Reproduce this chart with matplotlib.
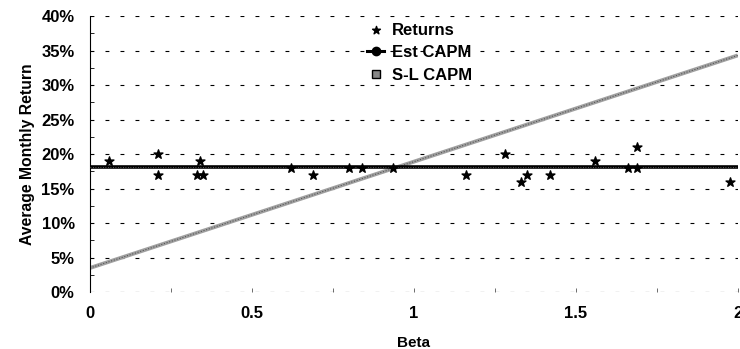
import numpy as np
import matplotlib
matplotlib.use("Agg")
from matplotlib import pyplot as plt
from matplotlib.ticker import MultipleLocator, PercentFormatter

plt.rcParams['font.family'] = ['Liberation Sans', 'DejaVu Sans']
plt.rcParams['font.weight'] = 'bold'

# Data
beta = [0.06, 0.21, 0.21, 0.33, 0.34, 0.35, 0.62, 0.69, 0.80, 0.84, 0.935,
        1.16, 1.28, 1.33, 1.35, 1.42, 1.56, 1.66, 1.69, 1.69, 1.975]
returns = [0.19, 0.20, 0.17, 0.17, 0.19, 0.17, 0.18, 0.17, 0.18, 0.18, 0.18,
           0.17, 0.20, 0.16, 0.17, 0.17, 0.19, 0.18, 0.18, 0.21, 0.16]
line_beta = [0, 2]
est_capm = [0.182, 0.182]
sl_capm = [0.035, 0.343]

fig = plt.figure(figsize=(7.4, 3.49), dpi=100)
ax = fig.add_axes([0.1216, 0.163, 0.8754, 0.791])

# Dashed horizontal gridlines
ax.yaxis.grid(True, linestyle=(0, (3.5, 10)), color='black', linewidth=0.8)
ax.set_axisbelow(True)

# S-L CAPM line (grey, speckled look)
ax.plot(line_beta, sl_capm, color='#a0a0a0', linewidth=2.8, solid_capstyle='butt', zorder=2)
ax.plot(line_beta, sl_capm, color='#555555', linewidth=0.8, linestyle=(0, (1, 1.5)), zorder=2)

# Est CAPM line (black, thick)
ax.plot(line_beta, est_capm, color='black', linewidth=2.6, solid_capstyle='butt', zorder=3)
ax.plot(line_beta, est_capm, color='#777777', linewidth=0.6, linestyle=(0, (1, 2)), zorder=3)

# Returns
ax.scatter(beta, returns, marker='*', s=45, color='black', zorder=4)

# Legend proxies
h1 = ax.scatter([], [], marker='*', s=35, color='black', label='Returns')
h2, = ax.plot([], [], marker='o', markersize=6, color='black', linewidth=2.2, label='Est CAPM')
h3, = ax.plot([], [], marker='s', markersize=6, color='#888888', markeredgecolor='black',
              linestyle='none', label='S-L CAPM')
leg = ax.legend(handles=[h1, h2, h3], loc='upper left', bbox_to_anchor=(0.405, 1.03),
                frameon=False, fontsize=12, handlelength=1.0, handletextpad=0.45,
                labelspacing=0.45)
for t in leg.get_texts():
    t.set_fontweight('bold')

ax.set_xlim(0, 2)
ax.set_ylim(0, 0.40)
ax.xaxis.set_major_locator(MultipleLocator(0.5))
ax.xaxis.set_minor_locator(MultipleLocator(0.25))
ax.yaxis.set_major_locator(MultipleLocator(0.05))
ax.yaxis.set_minor_locator(MultipleLocator(0.025))
ax.yaxis.set_major_formatter(PercentFormatter(1.0, decimals=0))
ax.xaxis.set_major_formatter(lambda v, p: f"{v:g}")

for s in ['top', 'right', 'bottom']:
    ax.spines[s].set_visible(False)
ax.spines['left'].set_linestyle((0, (1, 1)))
ax.spines['left'].set_linewidth(0.8)

ax.tick_params(axis='x', which='both', direction='in', length=3, width=0.6, color='#555555',
               labelsize=12, pad=10)
ax.tick_params(axis='y', which='major', direction='in', length=0, labelsize=12, pad=11)
ax.tick_params(axis='y', which='minor', direction='in', length=3, width=0.6)
for lab in ax.get_xticklabels() + ax.get_yticklabels():
    lab.set_fontweight('bold')

ax.set_xlabel('Beta', fontsize=11, fontweight='bold', labelpad=11)
ax.set_ylabel('Average Monthly Return', fontsize=11.3, fontweight='bold', labelpad=5)

fig.savefig('out.png', dpi=100)
